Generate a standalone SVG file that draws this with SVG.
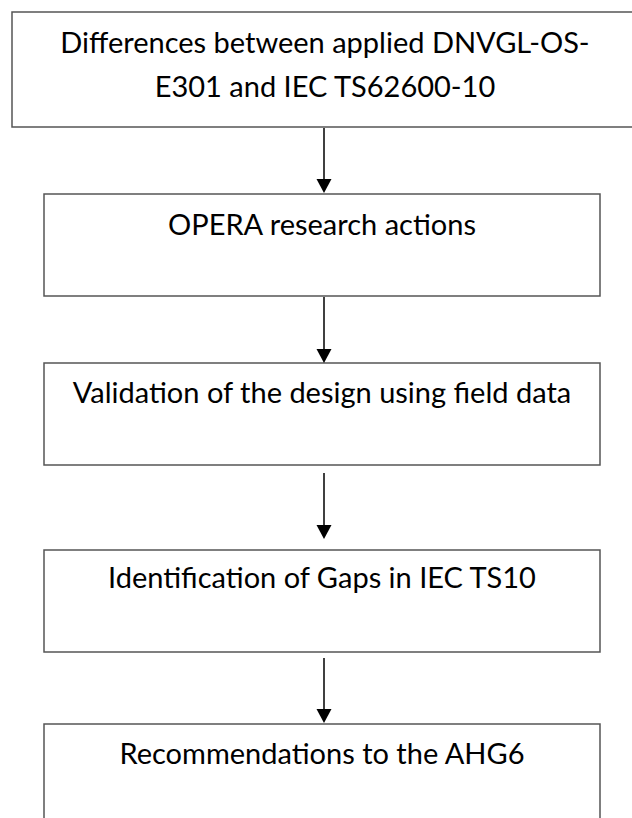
<svg xmlns="http://www.w3.org/2000/svg" width="632" height="818" viewBox="0 0 632 818">
<defs>
<style>
.box{fill:#fff;stroke:#555;stroke-width:1.5}
.t{font-family:Lato,"Open Sans","Liberation Sans",sans-serif;font-size:29px;fill:#000;text-anchor:middle}
.c{stroke:#000;stroke-width:1.5;fill:none}
.h{fill:#000}
</style>
</defs>
<rect width="632" height="818" fill="#fff"/>
<g id="n1"><rect class="box" x="12" y="12" width="630" height="115"/>
<text class="t" x="325" y="53">Differences between applied DNVGL-OS-</text>
<text class="t" x="325" y="97">E301 and IEC TS62600-10</text></g>
<g id="n2"><rect class="box" x="44" y="194" width="556" height="102"/>
<text class="t" x="322" y="235">OPERA research actions</text></g>
<g id="n3"><rect class="box" x="44" y="363" width="556" height="102"/>
<text class="t" x="322" y="403">Validation of the design using field data</text></g>
<g id="n4"><rect class="box" x="44" y="550" width="556" height="102"/>
<text class="t" x="322" y="588">Identification of Gaps in IEC TS10</text></g>
<g id="n5"><rect class="box" x="44" y="724" width="556" height="120"/>
<text class="t" x="322" y="764">Recommendations to the AHG6</text></g>
<g id="connectors">
<line class="c" x1="324" y1="128" x2="324" y2="180"/><path class="h" d="M316.5,179 L331.5,179 L324,193 Z"/>
<line class="c" x1="324" y1="297" x2="324" y2="350"/><path class="h" d="M316.5,349 L331.5,349 L324,363 Z"/>
<line class="c" x1="324" y1="473" x2="324" y2="526"/><path class="h" d="M316.5,525 L331.5,525 L324,539 Z"/>
<line class="c" x1="324" y1="658" x2="324" y2="710"/><path class="h" d="M316.5,709 L331.5,709 L324,723 Z"/>
</g>
</svg>
